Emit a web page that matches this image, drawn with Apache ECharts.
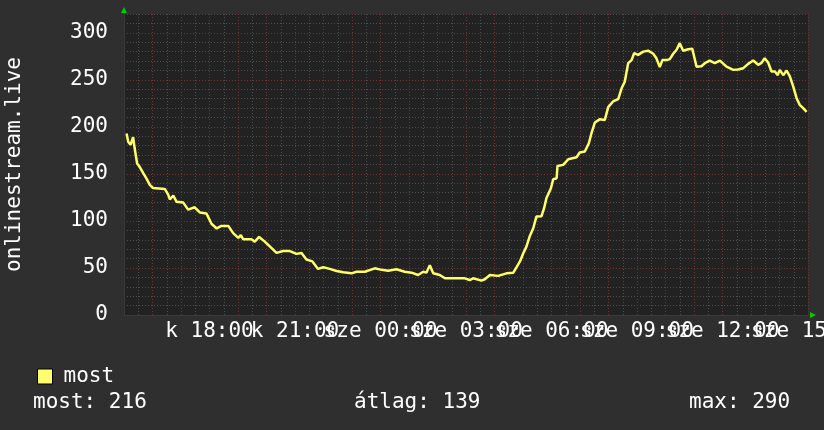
<!DOCTYPE html>
<html>
<head>
<meta charset="utf-8">
<script src="https://cdn.jsdelivr.net/npm/echarts@6/dist/echarts.min.js"></script>
<style>
  html, body { margin: 0; padding: 0; background: #2f2f2f; }
  #chart { width: 824px; height: 430px; }
</style>
</head>
<body>
<div id="chart"></div>
<script>
// hours since 15:00 (kedd)
var hours = [0.09, 0.15, 0.23, 0.32, 0.37, 0.46, 0.54, 0.67, 0.79, 0.91, 1.02, 1.43, 1.55, 1.61, 1.73, 1.84,
  2.08, 2.25, 2.48, 2.66, 2.89, 3.07, 3.25, 3.42, 3.66, 3.83, 4.01, 4.10, 4.18, 4.47, 4.59, 4.74, 4.94,
  5.18, 5.35, 5.59, 5.82, 6.05, 6.23, 6.40, 6.61, 6.81, 6.99, 7.22, 7.46, 7.69, 7.98, 8.16, 8.45, 8.80,
  9.04, 9.27, 9.56, 9.85, 10.09, 10.32, 10.50, 10.61, 10.73, 10.85, 11.08, 11.26, 11.61, 11.96, 12.13,
  12.25, 12.54, 12.66, 12.84, 13.13, 13.42, 13.66, 13.77, 13.89, 14.01, 14.12, 14.24, 14.36, 14.47,
  14.65, 14.74, 14.82, 14.98, 15.06, 15.18, 15.21, 15.41, 15.59, 15.88, 15.99, 16.17, 16.31, 16.40,
  16.52, 16.69, 16.87, 16.99, 17.16, 17.34, 17.46, 17.57, 17.69, 17.81, 17.90, 18.04, 18.22, 18.39,
  18.57, 18.68, 18.80, 18.89, 19.04, 19.15, 19.27, 19.39, 19.50, 19.62, 19.80, 19.94, 20.09, 20.26,
  20.38, 20.55, 20.73, 20.91, 21.14, 21.38, 21.55, 21.73, 21.90, 22.08, 22.25, 22.37, 22.48, 22.60,
  22.72, 22.84, 22.93, 23.01, 23.13, 23.25, 23.36, 23.48, 23.60, 23.71, 23.83, 23.95];
var viewers = [193, 184, 181, 189, 178, 161, 158, 151, 145, 138, 135, 134, 128, 123, 127, 120.5,
  119.5, 112, 114.5, 109, 108, 97, 92, 94.7, 94.7, 87, 82, 85, 80.5, 80.5, 78, 83, 78,
  71, 66, 68, 68, 65, 66, 59, 57, 49, 50.7, 49, 46.8, 45.4, 44.3, 46, 46, 49.6,
  48, 47, 48.6, 46, 45, 42.5, 46, 45, 53, 44.3, 42.5, 39, 39, 39, 37.2,
  39, 36.5, 38, 42.5, 41.6, 44.3, 45, 50.7, 56.7, 65.6, 72.7, 84, 92.2, 104.6,
  105, 113.5, 124, 134.8, 144.3, 145.4, 158.5, 159.6, 165.6, 167.7, 172.7, 173.8, 182.6, 193,
  204.6, 208, 207.4, 221, 227, 229.5, 241, 248, 267.7, 271, 278.4, 276.6, 280, 281,
  277.7, 273, 263.5, 271, 271, 272, 277.7, 282, 289, 281, 282.6, 283, 264, 264.5,
  267.7, 270.5, 267.7, 270.5, 264, 260.6, 261, 262.4, 267, 270.5, 266, 268, 273, 268.4,
  258.8, 259, 255, 260.6, 255, 259.9, 254, 243, 230.5, 223.4, 220, 216];

// labels every 3 hours, starting at 18:00
var xTickLabels = ['k 18:00', 'k 21:00', 'sze 00:00', 'sze 03:00', 'sze 06:00',
  'sze 09:00', 'sze 12:00', 'sze 15:00'];
var yTickLabels = [0, 50, 100, 150, 200, 250, 300];

var statLabels = ['most: 216', 'átlag: 139', 'max: 290'];

var majorColor = '#6e3434';
var minorColor = '#4e4e4e';
var font = 'DejaVu Sans Mono';

var lineData = [];
for (var i = 0; i < hours.length; i++) {
  lineData.push([hours[i], viewers[i]]);
}

var chart = echarts.init(document.getElementById('chart'));
chart.setOption({
  backgroundColor: '#2f2f2f',
  animation: false,
  textStyle: { fontFamily: font },
  grid: {
    left: 124, right: 16, top: 14, bottom: 115,
    outerBoundsMode: 'none',
    containLabel: false,
    show: true, backgroundColor: '#222222', borderWidth: 0
  },
  legend: {
    left: 32, top: 361,
    icon: 'rect',
    itemWidth: 15, itemHeight: 15,
    itemStyle: { borderColor: '#000', borderWidth: 1 },
    textStyle: { color: '#fff', fontSize: 21, fontFamily: font, padding: [0, 0, 0, 6] },
    data: ['most']
  },
  xAxis: {
    type: 'value',
    min: 0, max: 24, interval: 0.5,
    axisLine: { show: true, lineStyle: { color: '#3a3a3a' } },
    axisTick: { show: false },
    axisLabel: {
      color: '#fff', fontSize: 21, fontFamily: font, margin: 6,
      formatter: function (v) {
        if (v > 0 && v % 3 === 0) return xTickLabels[v / 3 - 1];
        return '';
      }
    },
    splitLine: {
      show: true,
      lineStyle: { color: [majorColor, minorColor], type: [1, 2], width: 1 }
    }
  },
  yAxis: {
    type: 'value',
    min: 0, max: 320, interval: 10,
    name: 'onlinestream.live',
    nameLocation: 'middle',
    nameRotate: 90,
    nameGap: 99,
    nameTextStyle: { color: '#fff', fontSize: 21, fontFamily: font },
    axisLine: { show: true, lineStyle: { color: '#3a3a3a' } },
    axisTick: { show: false },
    axisLabel: {
      color: '#fff', fontSize: 21, fontFamily: font, margin: 16,
      padding: [6, 0, 0, 0],
      formatter: function (v) {
        return yTickLabels.indexOf(v) >= 0 ? String(v) : '';
      }
    },
    splitLine: {
      show: true,
      lineStyle: { color: [majorColor, minorColor, minorColor, minorColor, minorColor], type: [1, 2], width: 1 }
    }
  },
  graphic: [
    // green arrows at axis ends
    { type: 'polygon', shape: { points: [[121, 13], [127, 13], [124, 7]] }, style: { fill: '#00cc00' } },
    { type: 'polygon', shape: { points: [[810, 312], [810, 318], [816, 315]] }, style: { fill: '#00cc00' } },
    { type: 'text', left: 33, top: 392, style: { text: statLabels[0], fill: '#fff', font: '21px "DejaVu Sans Mono"' } },
    { type: 'text', left: 354, top: 392, style: { text: statLabels[1], fill: '#fff', font: '21px "DejaVu Sans Mono"' } },
    { type: 'text', left: 689, top: 392, style: { text: statLabels[2], fill: '#fff', font: '21px "DejaVu Sans Mono"' } }
  ],
  series: [{
    name: 'most',
    type: 'line',
    data: lineData,
    showSymbol: false,
    itemStyle: { color: '#ffff70' },
    lineStyle: { color: '#ffff66', width: 2.5 }
  }]
});
</script>
</body>
</html>
